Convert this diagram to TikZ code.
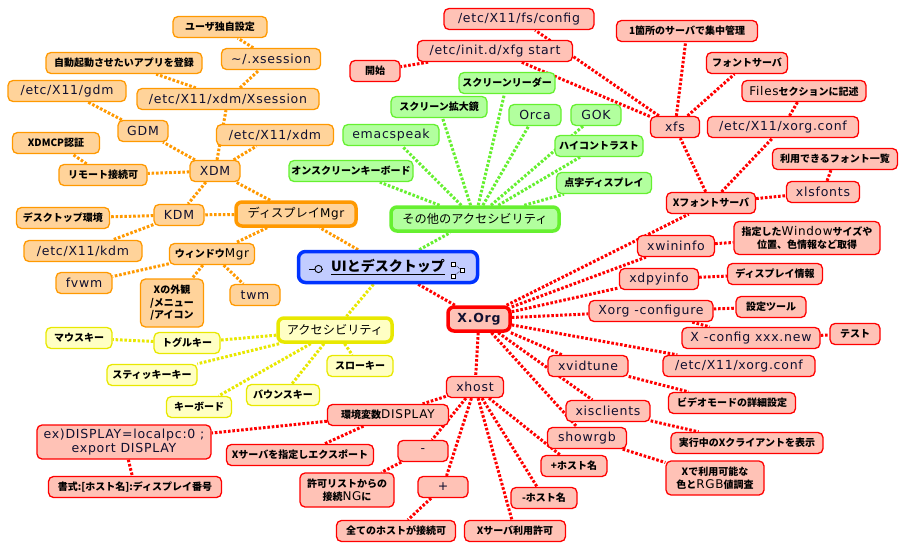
\documentclass[tikz,border=0pt]{standalone}
\usepackage{fontspec}
\setmainfont{DejaVu Sans}
\newfontfamily\latf{DejaVu Sans}[LetterSpace=6]
\newfontfamily\jpfont{Noto Sans CJK JP}
\usetikzlibrary{backgrounds}
\definecolor{ofill}{HTML}{FFD39A}
\definecolor{oline}{HTML}{FF9900}
\definecolor{yfill}{HTML}{FFFFC4}
\definecolor{yline}{HTML}{E8E800}
\definecolor{gfill}{HTML}{B2FF9E}
\definecolor{gline}{HTML}{66F030}
\definecolor{rfill}{HTML}{FFC2B6}
\definecolor{rline}{HTML}{FF0000}
\definecolor{bfill}{HTML}{C2CCFF}
\definecolor{bline}{HTML}{0033FF}
\definecolor{txt}{HTML}{101030}
\newcommand\JB{\jpfont\bfseries\fontsize{10}{12.5}\selectfont}
\newcommand\LT{\latf\fontsize{12.5}{14}\selectfont}
\newcommand\JL{\jpfont\fontsize{12.2}{15}\selectfont}
\newcommand\LTi{\latf\mdseries\fontsize{12}{14}\selectfont}
\tikzset{
  box/.style={rounded corners=5pt, line width=1.3pt, minimum height=21pt, inner sep=1pt, align=center, font=\JB, text=black},
  W/.style={minimum width=#1pt},
  ob/.style={box, draw=oline, fill=ofill},
  yb/.style={box, draw=yline, fill=yfill},
  gb/.style={box, draw=gline, fill=gfill},
  rb/.style={box, draw=rline, fill=rfill},
  lt/.style={font=\LT, text=txt},
  bigbox/.style={line width=3.5pt, rounded corners=6pt, font=\JL, minimum height=24pt},
  edgebase/.style={line width=3pt, dash pattern=on 2.6pt off 1.8pt},
  oe/.style={edgebase, draw=oline},
  ye/.style={edgebase, draw=yline},
  ge/.style={edgebase, draw=gline},
  re/.style={edgebase, draw=rline},
}
\begin{document}
\begin{tikzpicture}[x=1pt,y=-1pt]
\useasboundingbox (0,0) rectangle (906,549);
\begin{pgfonlayer}{background}
\fill[white] (0,0) rectangle (906,549);
\end{pgfonlayer}
% central
\node[box, draw=bline, fill=bfill, line width=3.5pt, rounded corners=7pt, W=179, minimum height=31pt, font=\jpfont\bfseries\fontsize{14}{16}\selectfont, text=black] (UI) at (388,267) {\underline{UIとデスクトップ}};
\draw[line width=0.9pt] (309,269) -- (323,269);
\draw[line width=0.9pt, fill=bfill] (318.5,269) circle (3.6pt);
\draw[line width=0.6pt, densely dotted] (453,264) -- (462,270) -- (453,276);
\draw[line width=0.6pt, fill=white] (451,262) rectangle (455,266);
\draw[line width=0.6pt, fill=white] (460,268) rectangle (464,272);
\draw[line width=0.6pt, fill=white] (451,274) rectangle (455,278);
% orange
\node[ob, bigbox, W=120] (DM) at (296,214) {ディスプレイ{\LTi Mgr}};
\node[ob, W=94] (o1) at (220,27) {ユーザ独自設定};
\node[ob, lt, W=99] (o2) at (271,59) {\textasciitilde/.xsession};
\node[ob, W=156] (o3) at (124,63) {自動起動させたいアプリを登録};
\node[ob, lt, W=118] (o4) at (67,91) {/etc/X11/gdm};
\node[ob, lt, W=182] (o5) at (228,99) {/etc/X11/xdm/Xsession};
\node[ob, lt, W=50] (o6) at (143,131) {GDM};
\node[ob, lt, W=117] (o7) at (275,135) {/etc/X11/xdm};
\node[ob, W=87] (o8) at (56,143) {XDMCP認証};
\node[ob, W=88] (o9) at (103,175) {リモート接続可};
\node[ob, lt, W=50] (o10) at (215,171) {XDM};
\node[ob, W=93] (o11) at (63,218) {デスクトップ環境};
\node[ob, lt, W=50] (o12) at (179,215) {KDM};
\node[ob, lt, W=118] (o13) at (83,251) {/etc/X11/kdm};
\node[ob, W=85] (o14) at (212,254) {ウィンドウ{\LTi Mgr}};
\node[ob, lt, W=56] (o15) at (84,283) {fvwm};
\node[ob, W=63, minimum height=48pt] (o16) at (172,303) {Xの外観\\/メニュー\\/アイコン};
\node[ob, lt, W=50] (o17) at (255,295) {twm};
% yellow
\node[yb, bigbox, W=114, draw=yline] (AC) at (335,330) {アクセシビリティ};
\node[yb, W=66] (y1) at (79,338) {マウスキー};
\node[yb, W=66] (y2) at (187,343) {トグルキー};
\node[yb, W=90] (y3) at (152,375) {スティッキーキー};
\node[yb, W=65] (y4) at (199,407) {キーボード};
\node[yb, W=73] (y5) at (283,395) {バウンスキー};
\node[yb, W=66] (y6) at (360,366) {スローキー};
% green
\node[gb, bigbox, W=168] (OT) at (475,219) {その他のアクセシビリティ};
\node[gb, W=96] (g1) at (507,83) {スクリーンリーダー};
\node[gb, W=96] (g2) at (439,107) {スクリーン拡大鏡};
\node[gb, lt, W=52] (g3) at (535,115) {Orca};
\node[gb, lt, W=50] (g4) at (596,115) {GOK};
\node[gb, lt, W=96] (g5) at (391,135) {emacspeak};
\node[gb, W=88] (g6) at (599,146) {ハイコントラスト};
\node[gb, W=95] (g7) at (604,183) {点字ディスプレイ};
\node[gb, W=124] (g8) at (351,171) {オンスクリーンキーボード};
% red
\node[rb, bigbox, W=62, font=\LT\bfseries, text=txt] (XO) at (479,319) {X.Org};
\node[rb, lt, W=150] (r1) at (519,19) {/etc/X11/fs/config};
\node[rb, lt, W=155] (r2) at (495,51) {/etc/init.d/xfg start};
\node[rb, W=50] (r3) at (375,71) {開始};
\node[rb, W=141] (r4) at (687,31) {1箇所のサーバで集中管理};
\node[rb, W=81] (r5) at (747,63) {フォントサーバ};
\node[rb, W=124] (r6) at (804,91) {{\LTi Files}セクションに記述};
\node[rb, lt, W=49] (r7) at (675,127) {xfs};
\node[rb, lt, W=151] (r8) at (783,127) {/etc/X11/xorg.conf};
\node[rb, W=125] (r9) at (835,159) {利用できるフォント一覧};
\node[rb, lt, W=73] (r10) at (823,192) {xlsfonts};
\node[rb, W=89] (r11) at (711,203) {Xフォントサーバ};
\node[rb, lt, W=77] (r12) at (676,246) {xwininfo};
\node[rb, W=146, minimum height=33pt] (r13) at (807,238) {指定した{\LTi Window}サイズや\\位置、色情報など取得};
\node[rb, lt, W=79] (r14) at (659,279) {xdpyinfo};
\node[rb, W=95] (r15) at (775,274) {ディスプレイ情報};
\node[rb, lt, W=124] (r16) at (651,311) {Xorg -configure};
\node[rb, W=70] (r17) at (771,307) {設定ツール};
\node[rb, lt, W=138] (r18) at (751,338) {X -config xxx.new};
\node[rb, W=50] (r19) at (855,334) {テスト};
\node[rb, lt, W=152] (r20) at (739,366) {/etc/X11/xorg.conf};
\node[rb, lt, W=80] (r21) at (588,366) {xvidtune};
\node[rb, W=127] (r22) at (732,403) {ビデオモードの詳細設定};
\node[rb, lt, W=84] (r23) at (608,411) {xisclients};
\node[rb, W=152] (r24) at (747,443) {実行中のXクライアントを表示};
\node[rb, lt, W=79] (r25) at (587,438) {showrgb};
\node[rb, W=98, minimum height=34pt] (r26) at (715,478) {Xで利用可能な\\色と{\LTi RGB}値調査};
\node[rb, W=66] (r27) at (574,466) {+ホスト名};
\node[rb, W=66] (r28) at (544,498) {-ホスト名};
\node[rb, W=101] (r29) at (515,531) {Xサーバ利用許可};
\node[rb, lt, W=57] (r30) at (475,387) {xhost};
\node[rb, W=121] (r31) at (388,415) {環境変数{\LTi DISPLAY}};
\node[rb, lt, W=174, minimum height=34pt] (r32) at (124,442) {ex)DISPLAY=localpc:0 ;\\export DISPLAY};
\node[rb, W=173] (r33) at (135,487) {書式:[ホスト名]:ディスプレイ番号};
\node[rb, W=147] (r34) at (300,455) {Xサーバを指定しエクスポート};
\node[rb, lt, W=50] (r35) at (423,451) {-};
\node[rb, W=94, minimum height=34pt] (r36) at (347,490) {許可リストからの\\接続{\LTi NG}に};
\node[rb, lt, W=50] (r37) at (443,487) {+};
\node[rb, W=119] (r38) at (396,531) {全てのホストが接続可};
% edges
\begin{pgfonlayer}{background}
\foreach \a/\b in {UI/DM, DM/o10, DM/o12, DM/o14, o10/o12, o10/o6, o10/o7, o10/o5, o10/o9, o9/o8, o6/o4, o5/o3, o5/o2, o2/o1, o12/o11, o12/o13, o14/o15, o14/o16, o14/o17}
  \draw[oe] (\a) -- (\b);
\foreach \a/\b in {UI/AC, AC/y2, y2/y1, AC/y3, AC/y4, AC/y5, AC/y6}
  \draw[ye] (\a) -- (\b);
\foreach \a/\b in {UI/OT, OT/g1, OT/g2, OT/g3, OT/g4, OT/g5, OT/g6, OT/g7, OT/g8}
  \draw[ge] (\a) -- (\b);
\foreach \a/\b in {UI/XO, XO/r11, XO/r12, XO/r14, XO/r16, XO/r20, XO/r21, XO/r23, XO/r25, XO/r30, r30/r31, r30/r35, r30/r37, r30/r29, r30/r28, r30/r27, r31/r32, r31/r34, r32/r33, r35/r36, r37/r38, r21/r22, r23/r24, r25/r26, r16/r17, r16/r18, r18/r19, r14/r15, r12/r13, r11/r10, r10/r9, r11/r7, r11/r8, r8/r6, r7/r1, r7/r2, r7/r4, r7/r5, r2/r3}
  \draw[re] (\a) -- (\b);
\end{pgfonlayer}
\end{tikzpicture}
\end{document}
